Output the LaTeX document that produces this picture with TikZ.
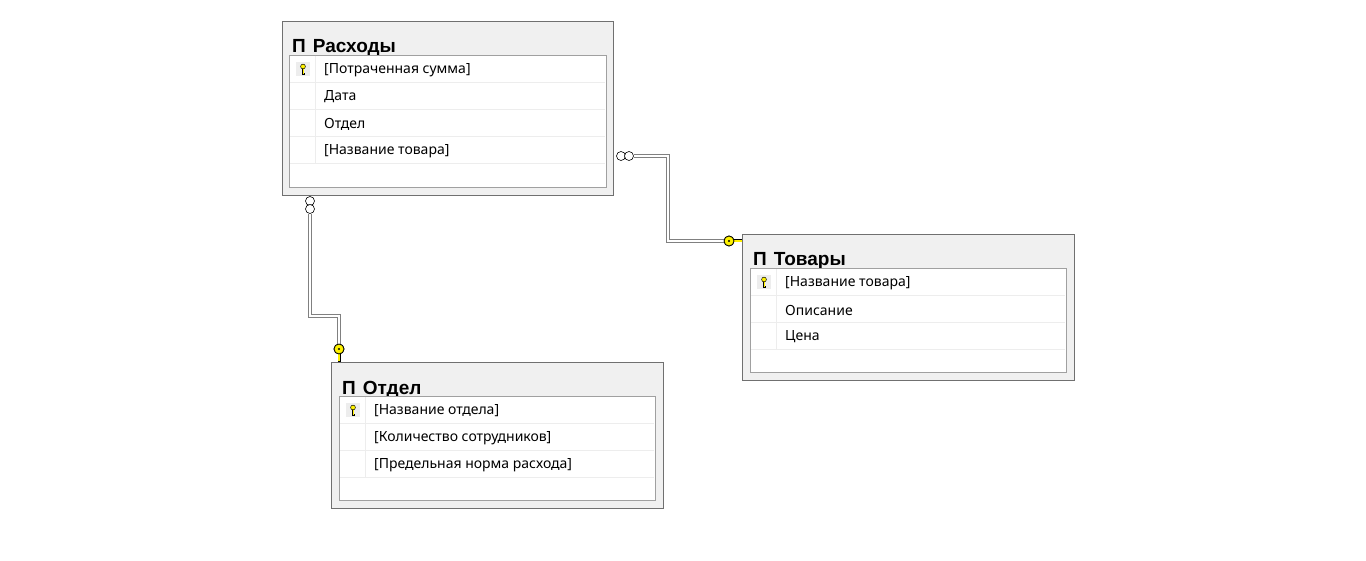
\documentclass[tikz,border=0pt]{standalone}
\usepackage{fontspec}
\setmainfont{Noto Sans}
\newfontfamily\titlefont{Liberation Sans}
\usepackage{tikz}
\usetikzlibrary{positioning}
\definecolor{boxgray}{HTML}{F0F0F0}
\definecolor{edgegray}{HTML}{707070}
\definecolor{innergray}{HTML}{A0A0A0}
\definecolor{rowgray}{HTML}{EDEDED}
\definecolor{keyyellow}{HTML}{FFF200}
\tikzset{%
  table box/.style={
    rectangle,
    draw=edgegray,
    fill=boxgray,
    anchor=north west,
    inner sep=0pt
  },
  inner box/.style={
    rectangle,
    draw=innergray,
    fill=white,
    anchor=north west,
    inner sep=0pt
  },
  table title/.style={
    anchor=base west,
    inner sep=0pt,
    font=\titlefont\fontsize{19}{21}\selectfont\bfseries
  },
  field/.style={
    anchor=west,
    inner sep=0pt,
    font=\fontsize{14}{16}\selectfont
  },
  row line/.style={draw=rowgray, line width=0.8pt},
  key cell/.style={
    rectangle,
    fill=rowgray,
    minimum width=14pt,
    minimum height=14pt,
    inner sep=0pt
  },
  many end/.style={
    circle,
    draw=black,
    fill=white,
    minimum size=9pt,
    inner sep=0pt,
    line width=0.6pt
  },
  key end/.style={
    circle,
    draw=black,
    fill=keyyellow,
    minimum size=10pt,
    inner sep=0pt,
    line width=0.8pt
  },
  relation/.style={
    draw=gray,
    double=white,
    double distance=2pt,
    line width=1.2pt
  }
}

\begin{document}
\begin{tikzpicture}[x=1pt, y=-1pt]
\useasboundingbox (0,0) rectangle (1366,561);

% Расходы
\node[table box, minimum width=331pt, minimum height=174pt] (rashody) at (282,21) {};
\node[table title] (rashody-title) at (292,53) {П\hspace{7pt}Расходы};
\node[inner box, minimum width=317pt, minimum height=132pt] (rashody-in) at (289,55) {};
\foreach \t [count=\i] in {{[Потраченная сумма]},Дата,Отдел,{[Название товара]}}
    {\node[field] (rashody-f\i) at (324,70+27*\i-27) {\t};
    \draw[row line] (290,82+27*\i-27) -- (605,82+27*\i-27);}
\draw[row line] (315,56) -- (315,163);
\node[key cell] (rashody-key) at (303,69) {};

% Товары
\node[table box, minimum width=332pt, minimum height=146pt] (tovary) at (742,234) {};
\node[table title] (tovary-title) at (753,266) {П\hspace{7pt}Товары};
\node[inner box, minimum width=316pt, minimum height=104pt] (tovary-in) at (750,268) {};
\foreach \t [count=\i] in {{[Название товара]},Описание,Цена}
    {\node[field] (tovary-f\i) at (785,283+27*\i-27) {\t};
    \draw[row line] (751,295+27*\i-27) -- (1065,295+27*\i-27);}
\draw[row line] (776,269) -- (776,349);
\node[key cell] (tovary-key) at (764,282) {};

% Отдел
\node[table box, minimum width=332pt, minimum height=146pt] (otdel) at (331,362) {};
\node[table title] (otdel-title) at (342,394) {П\hspace{7pt}Отдел};
\node[inner box, minimum width=316pt, minimum height=104pt] (otdel-in) at (339,396) {};
\foreach \t [count=\i] in {{[Название отдела]},{[Количество сотрудников]},{[Предельная норма расхода]}}
    {\node[field] (otdel-f\i) at (374,411+27*\i-27) {\t};
    \draw[row line] (340,423+27*\i-27) -- (654,423+27*\i-27);}
\draw[row line] (365,397) -- (365,477);
\node[key cell] (otdel-key) at (353,410) {};

% small keys
\foreach \k in {rashody-key,tovary-key,otdel-key}
    {\draw[black, line width=1.8pt] ([yshift=1pt]\k.center) -- ([yshift=-5pt]\k.center) -- ([xshift=1.5pt,yshift=-5pt]\k.center);
    \draw[keyyellow, line width=0.7pt] ([yshift=1pt]\k.center) -- ([yshift=-4.6pt]\k.center);
    \draw[black, fill=keyyellow, line width=0.5pt] ([yshift=2.5pt]\k.center) circle (2.4pt);}

% связь Расходы - Товары
\node[many end] (m1a) at (621,156) {};
\node[many end] (m1b) at (629,156) {};
\node[key end] (k1) at (729,241) {};
\coordinate (b1) at (668,156);
\draw[relation] (m1b.east) -- (b1) |- (k1.west);
\draw[black, line width=3pt] (k1.east) -- (742,241);
\draw[keyyellow, line width=1.6pt] (k1.east) -- (741.5,241);
\node[key end] at (k1) {};
\fill[black] (k1) circle (1.2pt);

% связь Расходы - Отдел
\node[many end] (m2a) at (310,201) {};
\node[many end] (m2b) at (310,209) {};
\node[key end] (k2) at (339,349) {};
\coordinate (b2) at (310,316);
\draw[relation] (m2b.south) -- (b2) -| (k2.north);
\draw[black, line width=3pt] (k2.south) -- (339,362);
\draw[keyyellow, line width=1.6pt] (k2.south) -- (339,361.5);
\node[key end] at (k2) {};
\fill[black] (k2) circle (1.2pt);
\end{tikzpicture}
\end{document}
